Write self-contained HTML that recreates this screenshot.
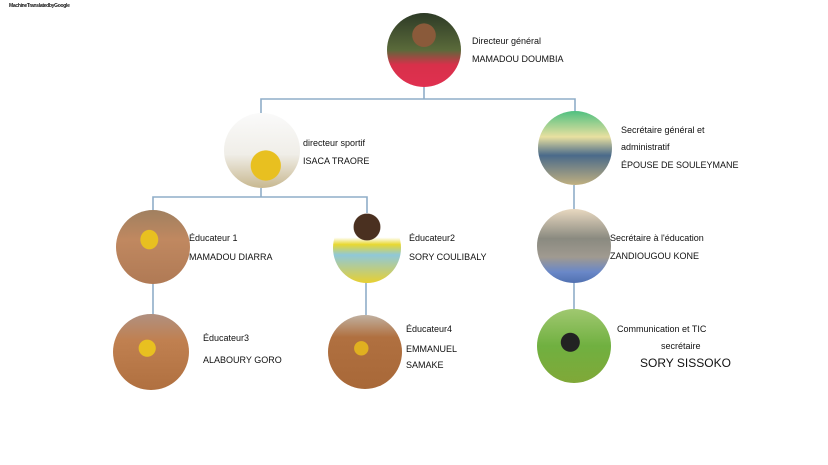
<!DOCTYPE html>
<html><head><meta charset="utf-8"><style>
body{margin:0;width:828px;height:465px;background:#fff;position:relative;overflow:hidden;font-family:"Liberation Sans",sans-serif;color:#111}
.c{position:absolute;border-radius:50%}
.t{position:absolute;font-size:9px;white-space:nowrap}
</style></head><body>
<div class="t" style="left:9px;top:3px;font-size:5px;font-weight:bold;letter-spacing:-0.3px">MachineTranslatedbyGoogle</div>
<svg width="828" height="465" style="position:absolute;left:0;top:0">
<g stroke="#8fadc8" stroke-width="1.6" fill="none">
<path d="M424 87V99M261 113V99H575V112"/>
<path d="M261 188V197M153 210V197H367V213"/>
<path d="M153 284V315M366 282V315M574 185V210M574 283V309"/>
</g></svg>
<div class="c" style="left:387px;top:13px;width:74px;height:74px;background:radial-gradient(circle at 50% 30%,#8a5a3a 0 18%,transparent 19%),linear-gradient(180deg,#2d3a26 0%,#5a6a3a 50%,#d8304a 70%,#e03050 100%)"></div>
<div class="c" style="left:224px;top:113px;width:76px;height:75px;background:radial-gradient(circle at 55% 70%,#e8c020 0 22%,transparent 23%),linear-gradient(180deg,#fafafa 0%,#f0eee8 55%,#c8b890 100%)"></div>
<div class="c" style="left:538px;top:111px;width:74px;height:74px;background:linear-gradient(180deg,#4fc080 0%,#e8e0a0 35%,#4a6a8a 60%,#c0b080 100%)"></div>
<div class="c" style="left:116px;top:210px;width:74px;height:74px;background:radial-gradient(ellipse at 45% 40%,#e8c020 0 15%,transparent 16%),linear-gradient(180deg,#a08060 0%,#c08860 40%,#b07a55 100%)"></div>
<div class="c" style="left:333px;top:213px;width:68px;height:70px;background:radial-gradient(circle at 50% 20%,#4a3020 0 20%,transparent 21%),linear-gradient(180deg,#fff 0%,#fff 35%,#e8d830 45%,#90c8d8 60%,#e8d030 100%)"></div>
<div class="c" style="left:537px;top:209px;width:74px;height:74px;background:linear-gradient(180deg,#e8d8c0 0%,#8a8a80 40%,#a09a90 65%,#6a88c8 85%,#5070b0 100%)"></div>
<div class="c" style="left:113px;top:314px;width:76px;height:76px;background:radial-gradient(ellipse at 45% 45%,#e8c020 0 14%,transparent 15%),linear-gradient(180deg,#b09080 0%,#c08050 35%,#b07040 100%)"></div>
<div class="c" style="left:328px;top:315px;width:74px;height:74px;background:radial-gradient(ellipse at 45% 45%,#e0b020 0 12%,transparent 13%),linear-gradient(180deg,#c0b0a0 0%,#b07040 30%,#a86838 100%)"></div>
<div class="c" style="left:537px;top:309px;width:74px;height:74px;background:radial-gradient(ellipse at 45% 45%,#222 0 16%,transparent 17%),linear-gradient(180deg,#a0c870 0%,#70b040 50%,#80a838 100%)"></div>
<div class="t" style="left:472px;top:36px">Directeur général</div>
<div class="t" style="left:472px;top:54px">MAMADOU DOUMBIA</div>
<div class="t" style="left:303px;top:138px">directeur sportif</div>
<div class="t" style="left:303px;top:156px">ISACA TRAORE</div>
<div class="t" style="left:621px;top:125px">Secrétaire général et</div>
<div class="t" style="left:621px;top:142px">administratif</div>
<div class="t" style="left:621px;top:160px">ÉPOUSE DE SOULEYMANE</div>
<div class="t" style="left:189px;top:233px">Éducateur 1</div>
<div class="t" style="left:189px;top:252px">MAMADOU DIARRA</div>
<div class="t" style="left:409px;top:233px">Éducateur2</div>
<div class="t" style="left:409px;top:252px">SORY COULIBALY</div>
<div class="t" style="left:610px;top:233px">Secrétaire à l'éducation</div>
<div class="t" style="left:610px;top:251px">ZANDIOUGOU KONE</div>
<div class="t" style="left:203px;top:333px">Éducateur3</div>
<div class="t" style="left:203px;top:355px">ALABOURY GORO</div>
<div class="t" style="left:406px;top:324px">Éducateur4</div>
<div class="t" style="left:406px;top:344px">EMMANUEL</div>
<div class="t" style="left:406px;top:360px">SAMAKE</div>
<div class="t" style="left:617px;top:324px">Communication et TIC</div>
<div class="t" style="left:661px;top:341px">secrétaire</div>
<div class="t" style="left:640px;top:356px;font-size:12px">SORY SISSOKO</div>
</body></html>
